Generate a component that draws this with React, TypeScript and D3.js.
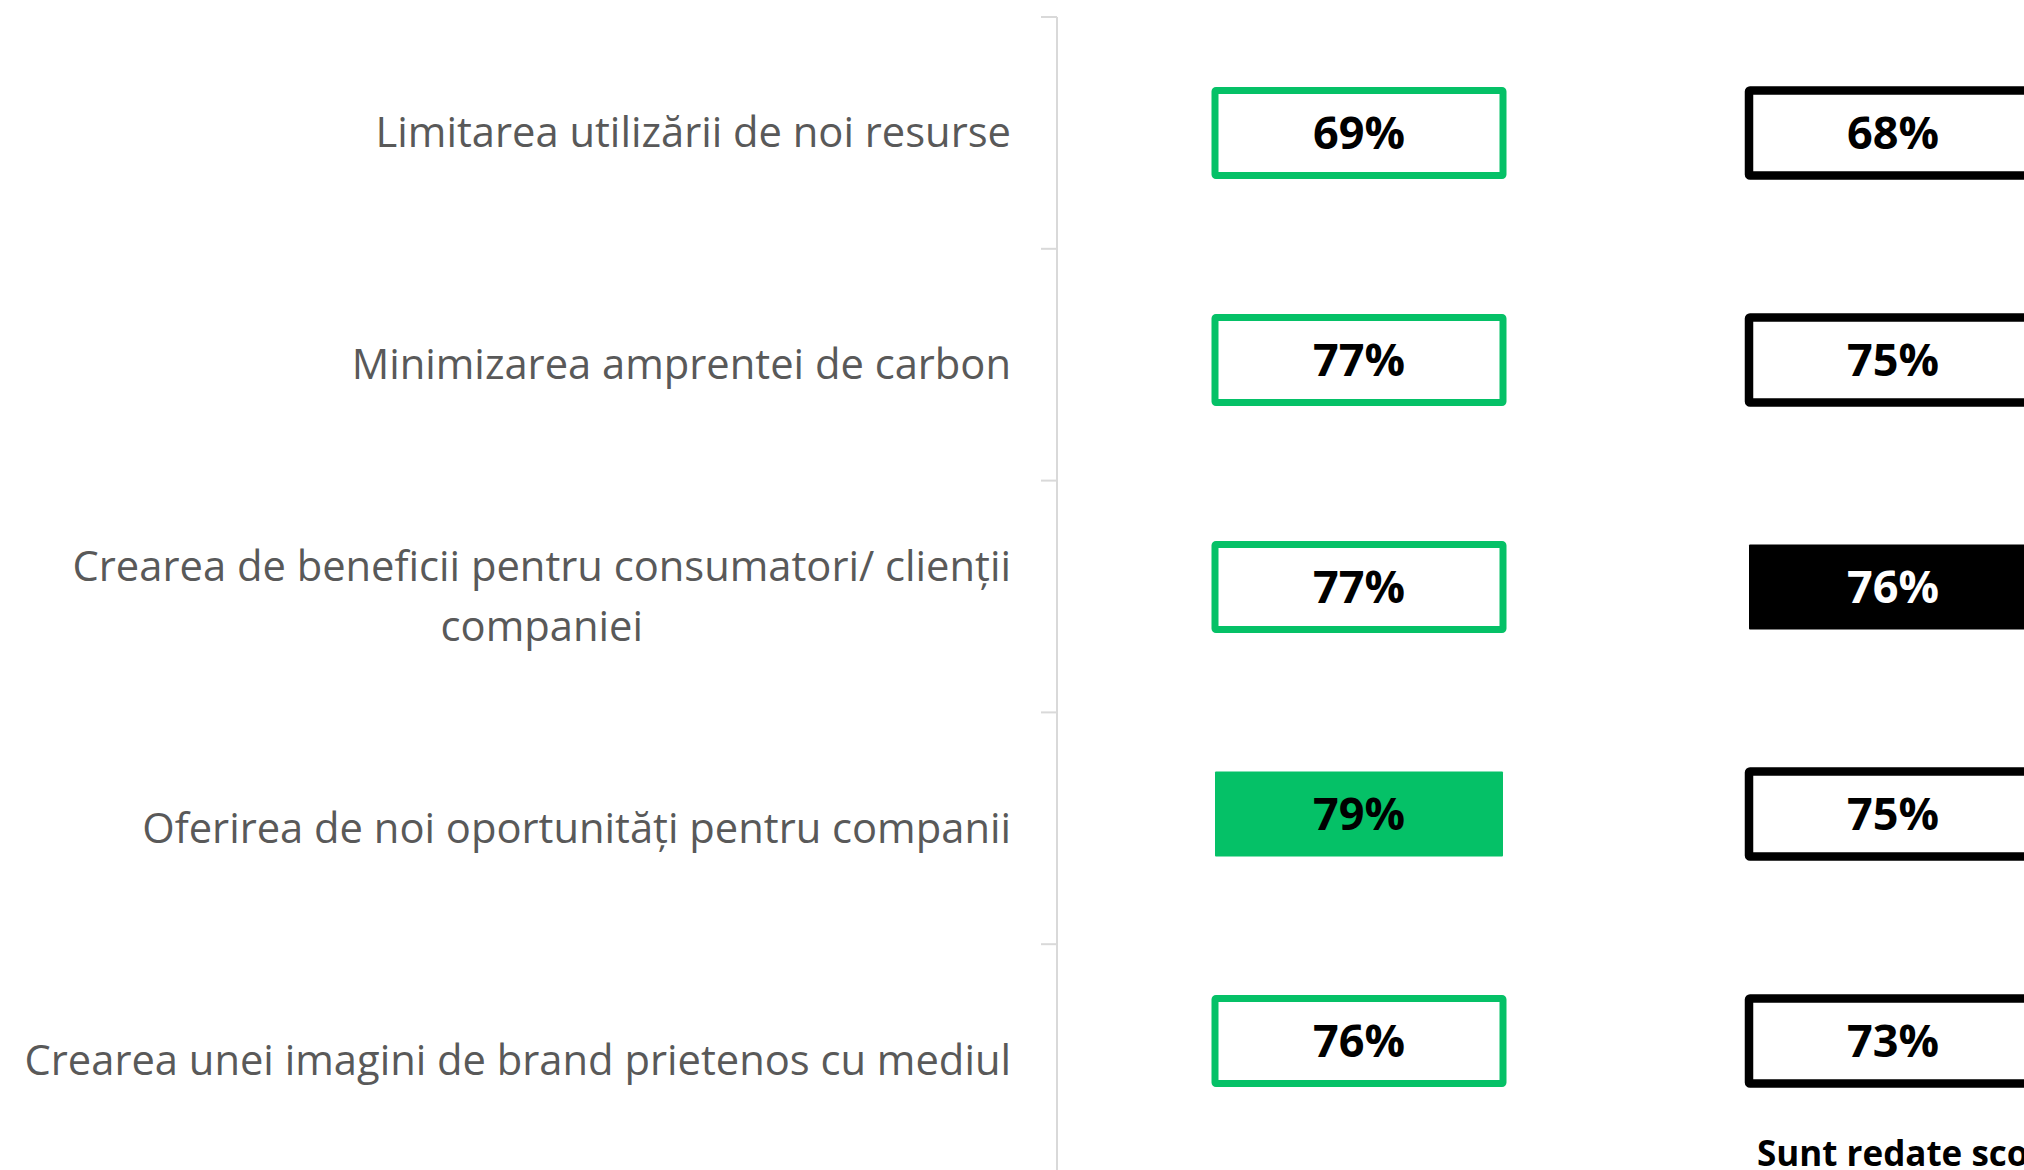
import React from 'react';
import * as d3 from 'd3';

// categories (lines split with \n), top to bottom
const categories: string[] = [
  'Limitarea utilizării de noi resurse',
  'Minimizarea amprentei de carbon',
  'Crearea de beneficii pentru consumatori/ clienții\ncompaniei',
  'Oferirea de noi oportunități pentru companii',
  'Crearea unei imagini de brand prietenos cu mediul',
];

const seriesNames: string[] = ['green', 'black'];
const greenValues: number[] = [69, 77, 77, 79, 76];
const blackValues: number[] = [68, 75, 76, 75, 73];
const seriesColors: string[] = ['#05C167', '#000000'];
const footerText = 'Sunt redate scorurile';

const W = 2024;
const H = 1170;
const LABEL_FONT = '41.7px "Open Sans"';

let ctx: CanvasRenderingContext2D | null = null;
const measure = (s: string) => {
  if (!ctx) ctx = document.createElement('canvas').getContext('2d');
  if (!ctx) return s.length * 20;
  ctx.font = LABEL_FONT;
  return ctx.measureText(s).width;
};

const App: React.FC = () => {
  // category bands (axis ticks + labels)
  const y = d3.scaleBand<string>().domain(categories).range([17, 1176]).padding(0);
  // box rows
  const boxY = d3.scalePoint<string>().domain(categories).range([133, 1041]);
  const boxX = d3.scalePoint<string>().domain(seriesNames).range([1359, 1893]);

  const axisX = 1057;
  const labelRight = 1011;
  const boxW = 288;
  const boxH = 85;

  const boundaries = categories.map((c) => y(c) as number).concat([y.range()[1]]);

  const allSeries = [greenValues, blackValues];

  return (
    <div style={{ position: 'absolute', left: 0, top: 0, width: W, height: H, overflow: 'hidden', background: '#fff' }}>
      <svg width={W} height={H} style={{ display: 'block' }}>
        {/* axis */}
        <line x1={axisX} x2={axisX} y1={17} y2={H} stroke="#D9D9D9" strokeWidth={2} />
        {boundaries.map((b, i) => (
          <line key={'t' + i} x1={axisX - 16} x2={axisX} y1={b} y2={b} stroke="#D9D9D9" strokeWidth={2} />
        ))}

        {/* category labels */}
        {categories.map((c) => {
          const lines = c.split('\n');
          const maxW = d3.max(lines, (l) => measure(l)) as number;
          const cx = labelRight - maxW / 2;
          const cy = (y(c) as number) + y.bandwidth() / 2;
          const lh = 60;
          return (
            <text
              key={c}
              textAnchor="middle"
              fill="#595959"
              style={{ font: LABEL_FONT }}
            >
              {lines.map((l, i) => (
                <tspan key={i} x={cx} y={cy + (i - (lines.length - 1) / 2) * lh + 14.5}>
                  {l}
                </tspan>
              ))}
            </text>
          );
        })}

        {/* value boxes */}
        {allSeries.map((vals, si) => {
          const maxV = d3.max(vals) as number;
          const color = seriesColors[si];
          const cx = boxX(seriesNames[si]) as number;
          return (
            <g key={seriesNames[si]}>
              {vals.map((v, i) => {
                const cy = boxY(categories[i]) as number;
                const hi = v === maxV;
                return (
                  <g key={i}>
                    <rect
                      x={cx - boxW / 2}
                      y={cy - boxH / 2}
                      width={boxW}
                      height={boxH}
                      fill={hi ? color : '#fff'}
                      stroke={hi ? 'none' : color}
                      strokeWidth={si === 0 ? 7 : 8.5}
                      rx={1}
                    />
                    <text
                      x={cx}
                      y={cy + 16}
                      textAnchor="middle"
                      fontFamily='"Open Sans"'
                      fontWeight={700}
                      fontSize={45}
                      fill={hi && si === 1 ? '#fff' : '#000'}
                    >
                      {v}%
                    </text>
                  </g>
                );
              })}
            </g>
          );
        })}

        <text x={1757} y={1166} fontFamily='"Open Sans"' fontWeight={700} fontSize={35} fill="#000">
          {footerText}
        </text>
      </svg>
    </div>
  );
};

export default App;
